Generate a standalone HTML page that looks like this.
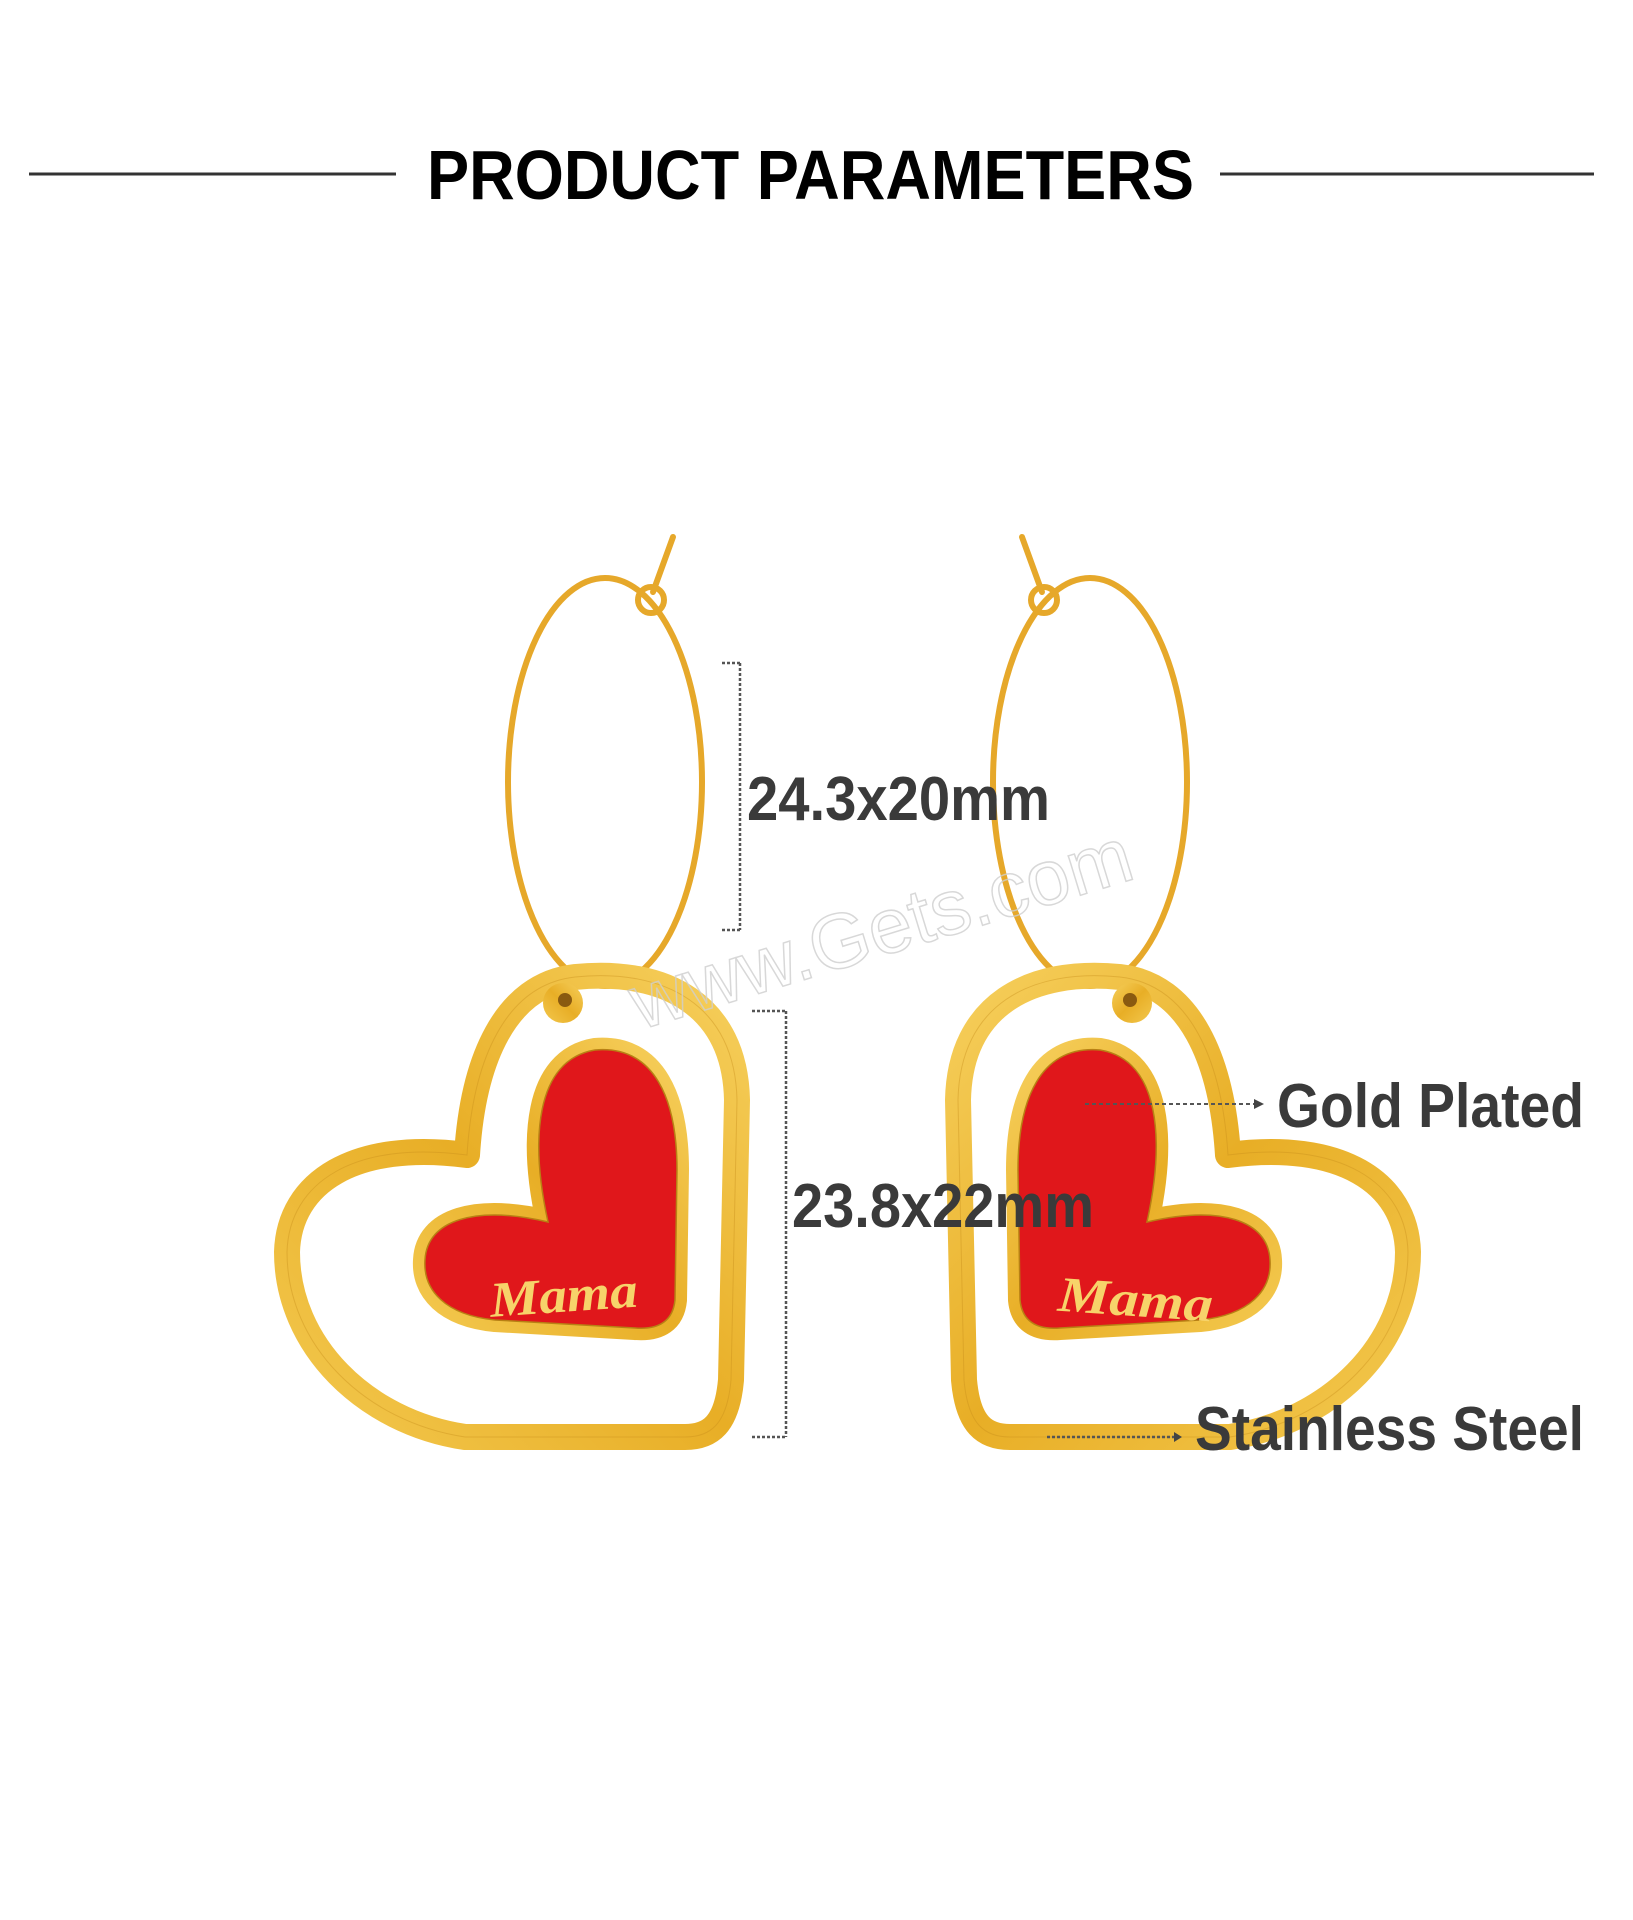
<!DOCTYPE html>
<html><head><meta charset="utf-8"><style>
html,body{margin:0;padding:0;background:#fff;}
svg{display:block;}
</style></head><body>
<svg width="1633" height="1920" viewBox="0 0 1633 1920" xmlns="http://www.w3.org/2000/svg">
<defs>
<linearGradient id="g" x1="0" y1="0" x2="1" y2="1">
<stop offset="0" stop-color="#f6cf5c"/><stop offset="0.5" stop-color="#e8ae26"/><stop offset="1" stop-color="#f3c84e"/>
</linearGradient>
<g id="ear">
  <ellipse cx="1090" cy="782" rx="97" ry="204" fill="none" stroke="#e6a82a" stroke-width="6"/>
  <path d="M1022,537 L1042,592" stroke="#e6a82a" stroke-width="6" fill="none" stroke-linecap="round"/>
  <circle cx="1044" cy="600" r="13" fill="none" stroke="#e6a82a" stroke-width="6"/>
  <path d="M1228,1155 C1222,1060 1190,985 1120,977 C1030,968 960,1005 958,1100 L964,1380 C968,1425 985,1437 1010,1437 L1230,1437 C1330,1422 1408,1345 1408,1252 C1406,1182 1340,1140 1228,1155 Z" fill="none" stroke="url(#g)" stroke-width="26" stroke-linejoin="round"/>
  <path d="M1228,1155 C1222,1060 1190,985 1120,977 C1030,968 960,1005 958,1100 L964,1380 C968,1425 985,1437 1010,1437 L1230,1437 C1330,1422 1408,1345 1408,1252 C1406,1182 1340,1140 1228,1155 Z" fill="none" stroke="#c98f1c" stroke-width="1" opacity="0.4"/>
  <circle cx="1132" cy="1003" r="20" fill="url(#g)"/>
  <circle cx="1130" cy="1000" r="7" fill="#8a5a10"/>
  <path d="M1147,1222 C1165,1140 1160,1060 1100,1050 C1040,1045 1018,1100 1018,1170 L1020,1300 C1022,1320 1035,1330 1060,1328 L1200,1320 C1250,1315 1272,1290 1270,1260 C1268,1220 1220,1205 1147,1222 Z" fill="url(#g)" stroke="url(#g)" stroke-width="24" stroke-linejoin="round"/>
  <path d="M1147,1222 C1165,1140 1160,1060 1100,1050 C1040,1045 1018,1100 1018,1170 L1020,1300 C1022,1320 1035,1330 1060,1328 L1200,1320 C1250,1315 1272,1290 1270,1260 C1268,1220 1220,1205 1147,1222 Z" fill="#e0171b" stroke="#b88014" stroke-width="1.5"/>
</g>
</defs>

<line x1="29" y1="174" x2="396" y2="174" stroke="#333" stroke-width="3"/>
<line x1="1220" y1="174" x2="1594" y2="174" stroke="#333" stroke-width="3"/>
<text x="427" y="199" font-family="Liberation Sans Narrow, Liberation Sans, sans-serif" font-weight="bold" font-size="70" textLength="767" lengthAdjust="spacingAndGlyphs" fill="#000">PRODUCT PARAMETERS</text>

<use href="#ear"/>
<use href="#ear" transform="translate(1695,0) scale(-1,1)"/>

<text x="490" y="1312" font-family="Liberation Serif, serif" font-style="italic" font-weight="bold" font-size="50" fill="#f7d36a" textLength="148" lengthAdjust="spacingAndGlyphs" transform="rotate(-4 560 1300)">Mama</text>
<text x="1058" y="1316" font-family="Liberation Serif, serif" font-style="italic" font-weight="bold" font-size="50" fill="#f7d36a" textLength="155" lengthAdjust="spacingAndGlyphs" transform="rotate(4 1135 1300)">Mama</text>

<text x="640" y="1030" font-family="Liberation Sans, sans-serif" font-size="78" fill="none" stroke="#cfcfcf" stroke-width="1.5" opacity="0.8" transform="rotate(-17 640 1030)">www.Gets.com</text>

<g stroke="#555" stroke-width="2.5" stroke-dasharray="3,2" fill="none">
<line x1="740" y1="663" x2="740" y2="930"/>
<line x1="722" y1="663" x2="740" y2="663"/>
<line x1="722" y1="930" x2="740" y2="930"/>
<line x1="786" y1="1011" x2="786" y2="1437"/>
<line x1="752" y1="1011" x2="786" y2="1011"/>
<line x1="752" y1="1437" x2="786" y2="1437"/>
</g>
<g font-family="Liberation Sans Narrow, Liberation Sans, sans-serif" font-weight="bold" font-size="62" fill="#3a3a3a">
<text x="747" y="820" textLength="303" lengthAdjust="spacingAndGlyphs">24.3x20mm</text>
<text x="792" y="1227" textLength="302" lengthAdjust="spacingAndGlyphs">23.8x22mm</text>
<text x="1277" y="1127" textLength="307" lengthAdjust="spacingAndGlyphs">Gold Plated</text>
<text x="1195" y="1450" textLength="389" lengthAdjust="spacingAndGlyphs">Stainless Steel</text>
</g>

<line x1="1085" y1="1104" x2="1254" y2="1104" stroke="#555" stroke-width="2" stroke-dasharray="4,3"/>
<polygon points="1254,1099 1264,1104 1254,1109" fill="#444"/>
<line x1="1047" y1="1437" x2="1174" y2="1437" stroke="#555" stroke-width="2.5" stroke-dasharray="3,2"/>
<polygon points="1174,1432 1182,1437 1174,1442" fill="#444"/>
</svg>
</body></html>
